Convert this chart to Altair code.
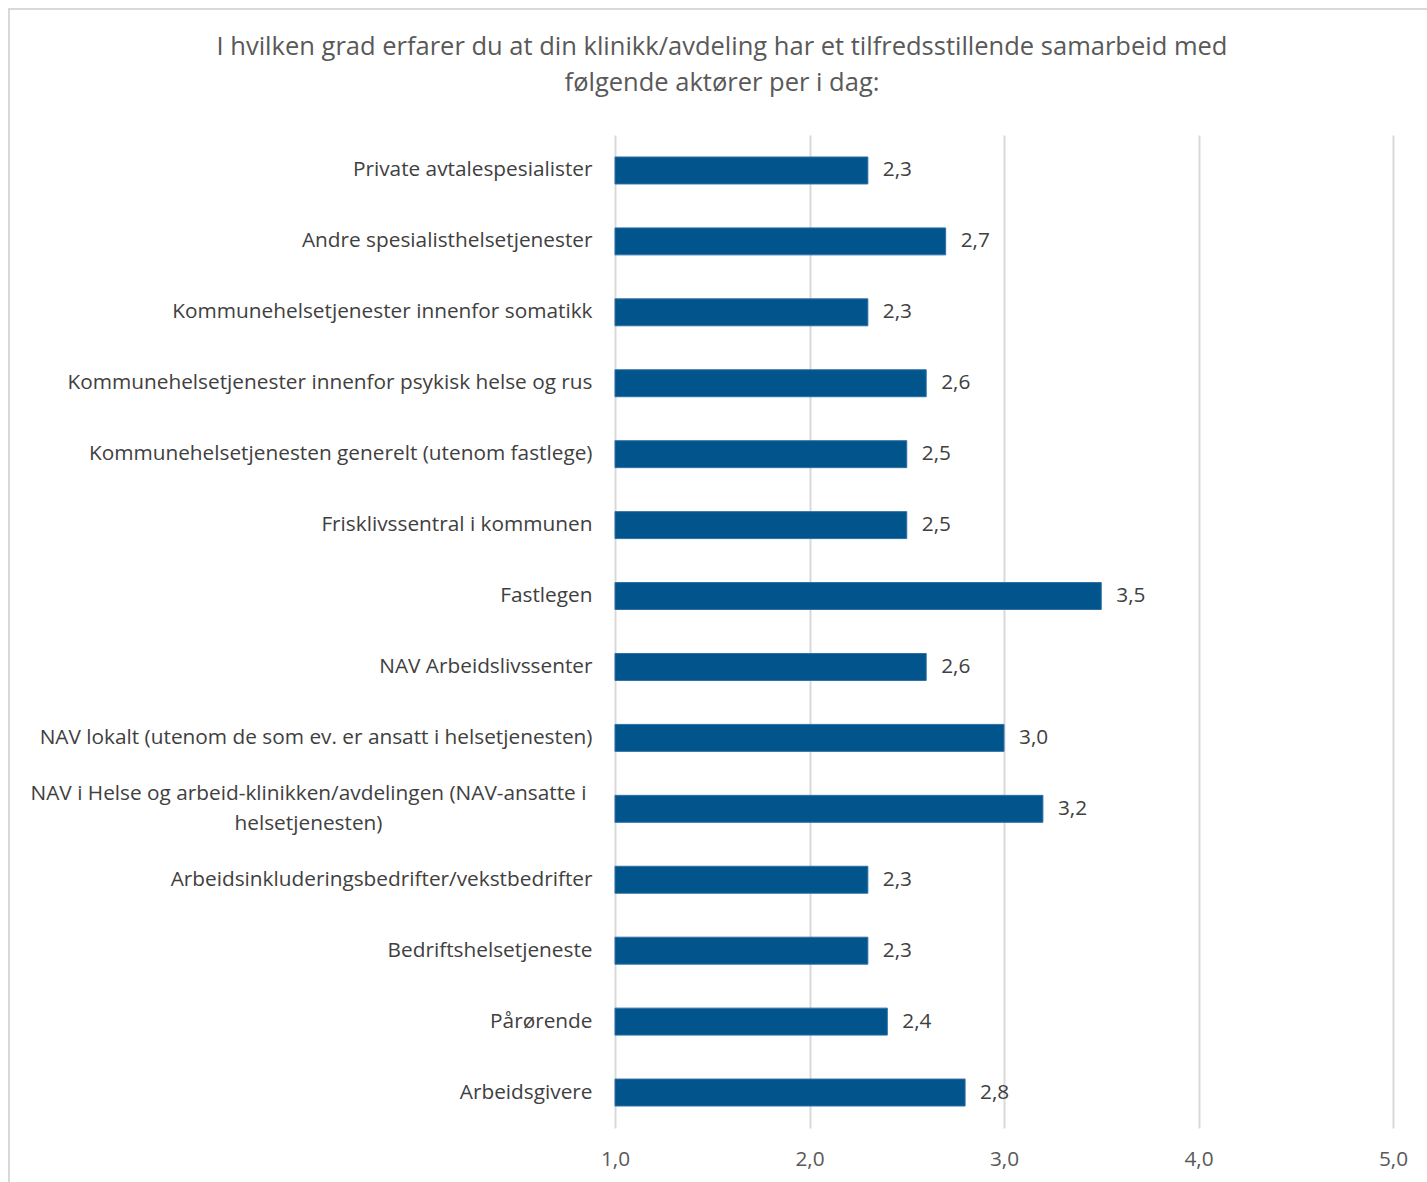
import altair as alt
import pandas as pd

categories = [
    "Private avtalespesialister",
    "Andre spesialisthelsetjenester",
    "Kommunehelsetjenester innenfor somatikk",
    "Kommunehelsetjenester innenfor psykisk helse og rus",
    "Kommunehelsetjenesten generelt (utenom fastlege)",
    "Frisklivssentral i kommunen",
    "Fastlegen",
    "NAV Arbeidslivssenter",
    "NAV lokalt (utenom de som ev. er ansatt i helsetjenesten)",
    "NAV i Helse og arbeid-klinikken/avdelingen (NAV-ansatte i|helsetjenesten)",
    "Arbeidsinkluderingsbedrifter/vekstbedrifter",
    "Bedriftshelsetjeneste",
    "Pårørende",
    "Arbeidsgivere",
]
values = [2.3, 2.7, 2.3, 2.6, 2.5, 2.5, 3.5, 2.6, 3.0, 3.2, 2.3, 2.3, 2.4, 2.8]
x_ticks = [1, 2, 3, 4, 5]
title_lines = [
    "I hvilken grad erfarer du at din klinikk/avdeling har et tilfredsstillende samarbeid med",
    "følgende aktører per i dag:",
]

df = pd.DataFrame({"cat": categories, "val": values})
df["lab"] = [f"{v:.1f}".replace(".", ",") for v in values]

FONT = "Open Sans"
BAR = "#02548C"
WRAPPED = categories[9]
IS_WRAPPED = f"datum.value == '{WRAPPED}'"
FS = 20.8

y_enc = alt.Y(
    "cat:N",
    sort=categories,
    title=None,
    scale=alt.Scale(paddingInner=0.62, paddingOuter=0.31),
    axis=alt.Axis(
        domain=False,
        ticks=False,
        grid=False,
        labelFont=FONT,
        labelFontSize=FS,
        labelColor="#404040",
        labelLimit=800,
        labelLineHeight=30,
        labelExpr="split(datum.label, '|')",
        labelAlign={"condition": {"test": IS_WRAPPED, "value": "center"}, "value": "right"},
        labelPadding={"condition": {"test": IS_WRAPPED, "value": 307}, "value": 23},
        labelOffset={"condition": {"test": IS_WRAPPED, "value": -15}, "value": 0},
    ),
)

x_enc = alt.X(
    "val:Q",
    title=None,
    scale=alt.Scale(domain=[1, 5], nice=False, zero=False),
    axis=alt.Axis(
        values=x_ticks,
        domain=False,
        ticks=False,
        grid=True,
        gridColor="#D9D9D9",
        gridWidth=2,
        labelFont=FONT,
        labelFontSize=FS,
        labelColor="#595959",
        labelPadding=21,
        labelFlush=False,
        labelExpr="replace(format(datum.value, '.1f'), '.', ',')",
    ),
)

base = alt.Chart(df)

bars = base.mark_bar(color=BAR, stroke="#2E6FA6", strokeWidth=1).encode(
    y=y_enc,
    x=x_enc,
    x2=alt.X2(datum=1),
)

texts = base.mark_text(
    align="left", baseline="middle", dx=15, font=FONT, fontSize=FS, color="#404040"
).encode(y=alt.Y("cat:N", sort=categories), x="val:Q", text="lab:N")

border = alt.Chart(pd.DataFrame({"k": [0]})).mark_rect(
    fill=None, stroke="#D9D9D9", strokeWidth=2
).encode(
    x=alt.value(-606), x2=alt.value(860), y=alt.value(-126), y2=alt.value(1100)
)

chart = alt.layer(border, bars, texts).properties(
    width=778,
    height=993,
    background="white",
    title=alt.TitleParams(
        text=title_lines,
        font=FONT,
        fontSize=25.5,
        fontWeight="normal",
        color="#595959",
        anchor="middle",
        frame="group",
        dx=-282,
        offset=-88,
        lineHeight=36,
    ),
    padding={"left": 615, "top": 135, "right": 34, "bottom": 54},
    autosize=alt.AutoSizeParams(type="none"),
).configure_view(stroke=None)

chart.save("out.html", embed_options={"renderer": "svg", "actions": False})
